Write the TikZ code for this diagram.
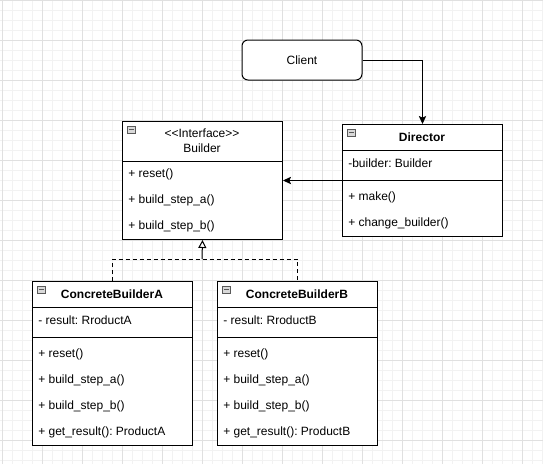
\documentclass[tikz,border=0pt]{standalone}
\usepackage{fontspec}
\newfontfamily\dio{Liberation Sans}
\usetikzlibrary{arrows.meta}
\begin{document}
\frenchspacing
\begin{tikzpicture}[x=0.75pt,y=-0.75pt,
  every node/.style={font=\dio\fontsize{9pt}{11pt}\selectfont\frenchspacing, text=black},
  classbox/.style={draw, line width=0.75pt, fill=white, minimum width=120pt, inner sep=0, anchor=north west},
  item/.style={anchor=west, inner sep=0},
  title/.style={inner sep=0, font=\dio\bfseries\fontsize{9pt}{11pt}\selectfont},
  sep/.style={line width=0.75pt},
  conn/.style={line width=0.75pt},
  collapse/.style={draw=gray!70!black, fill=gray!30, minimum width=6pt, minimum height=5.25pt, inner sep=0, line width=0.45pt, anchor=north west,
    path picture={\draw[line width=0.9pt] ([xshift=1.3pt]path picture bounding box.west) -- ([xshift=-1.3pt]path picture bounding box.east);}}
]
\useasboundingbox (0,0) rectangle (543,464);
\fill[white] (0,0) rectangle (543,464);
% grid
\foreach \x in {2,12,...,542} \draw[line width=0.75pt, black!5] (\x,0) -- (\x,464);
\foreach \y in {0,10,...,460} \draw[line width=0.75pt, black!5] (0,\y) -- (543,\y);
\foreach \x in {2,42,...,542} \draw[line width=0.75pt, black!12] (\x,0) -- (\x,464);
\foreach \y in {0,40,...,440} \draw[line width=0.75pt, black!12] (0,\y) -- (543,\y);

% Client
\node[draw, line width=0.75pt, fill=white, rounded corners=4.5pt, minimum width=90pt, minimum height=30pt, inner sep=0] (client) at (302,60) {Client};

% Builder
\node[classbox, minimum height=88.5pt] (builder) at (122,121) {};
\draw[sep] ([yshift=-30pt]builder.north west) -- ([yshift=-30pt]builder.north east);
\node[collapse] (bic) at (127,125.5) {};
\node[inner sep=0] (bst) at (202,133.5) {<<Interface>>};
\node[inner sep=0] (bt) at (202,148) {Builder};
\node[item] (b1) at (128,174) {+ reset()};
\node[item] (b2) at (128,200) {+ build\_step\_a()};
\node[item] (b3) at (128,226) {+ build\_step\_b()};

% Director
\node[classbox, minimum height=84pt] (director) at (342,124) {};
\draw[sep] ([yshift=-19.5pt]director.north west) -- ([yshift=-19.5pt]director.north east);
\draw[sep] ([yshift=-42pt]director.north west) -- ([yshift=-42pt]director.north east);
\node[collapse] (dic) at (347,128.5) {};
\node[title] (dt) at (422,137) {Director};
\node[item] (d0) at (348,163) {-builder: Builder};
\node[item] (d1) at (348,197) {+ make()};
\node[item] (d2) at (348,223) {+ change\_builder()};

% ConcreteBuilderA
\node[classbox, minimum height=123pt] (ca) at (32,281) {};
\draw[sep] ([yshift=-19.5pt]ca.north west) -- ([yshift=-19.5pt]ca.north east);
\draw[sep] ([yshift=-42pt]ca.north west) -- ([yshift=-42pt]ca.north east);
\node[collapse] (aic) at (37,285.5) {};
\node[title] (at) at (112,294) {ConcreteBuilderA};
\node[item] (a0) at (38,320) {- result: RroductA};
\node[item] (a1) at (38,354) {+ reset()};
\node[item] (a2) at (38,380) {+ build\_step\_a()};
\node[item] (a3) at (38,406) {+ build\_step\_b()};
\node[item] (a4) at (38,432) {+ get\_result(): ProductA};

% ConcreteBuilderB
\node[classbox, minimum height=123pt] (cb) at (217,281) {};
\draw[sep] ([yshift=-19.5pt]cb.north west) -- ([yshift=-19.5pt]cb.north east);
\draw[sep] ([yshift=-42pt]cb.north west) -- ([yshift=-42pt]cb.north east);
\node[collapse] (bbic) at (222,285.5) {};
\node[title] (bt2) at (297,294) {ConcreteBuilderB};
\node[item] (e0) at (223,320) {- result: RroductB};
\node[item] (e1) at (223,354) {+ reset()};
\node[item] (e2) at (223,380) {+ build\_step\_a()};
\node[item] (e3) at (223,406) {+ build\_step\_b()};
\node[item] (e4) at (223,432) {+ get\_result(): ProductB};

% connectors
\draw[conn, -{Stealth[length=6pt,width=5.5pt,inset=1.2pt]}] (client.east) -| (director.north);
\draw[conn, -{Stealth[length=6pt,width=5.5pt,inset=1.2pt]}] (director.west) -- (director.west -| builder.east);
\coordinate (j) at (202,259);
\draw[conn, dashed, dash pattern=on 3pt off 2.25pt] (ca.north) |- (j) -| (cb.north);
\draw[conn, -{Triangle[open,length=6pt,width=6pt,fill=white]}] (j) -- (builder.south);
\end{tikzpicture}
\end{document}
